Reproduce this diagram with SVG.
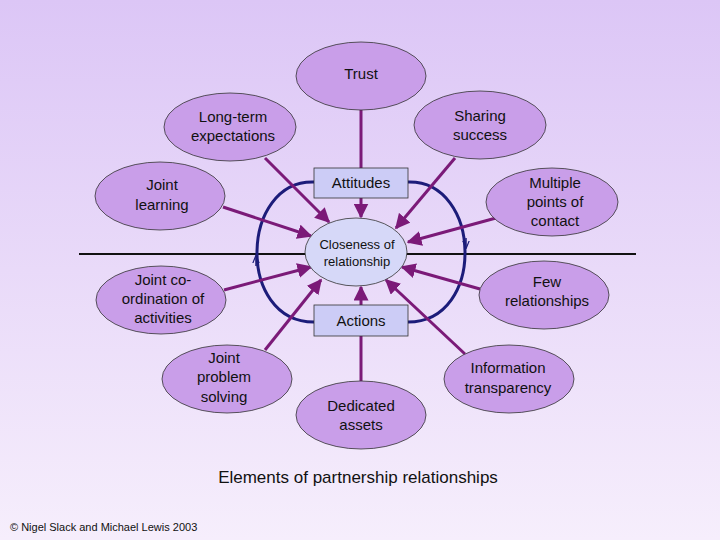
<svg xmlns="http://www.w3.org/2000/svg" width="720" height="540" viewBox="0 0 720 540">
<defs>
<linearGradient id="bg" x1="0" y1="0" x2="0" y2="1"><stop offset="0" stop-color="#dcc6f6"/><stop offset="1" stop-color="#f6eefc"/></linearGradient>
<marker id="pa" viewBox="0 0 10 10" refX="9" refY="5" markerWidth="5" markerHeight="5" orient="auto"><path d="M0,0L10,5L0,10z" fill="#7b1a78"/></marker>
<marker id="ba" viewBox="0 0 10 10" refX="9" refY="5" markerWidth="8" markerHeight="8" markerUnits="userSpaceOnUse" orient="auto"><path d="M0,1L10,5L0,9" fill="none" stroke="#1c1c7a" stroke-width="1.5"/></marker>
</defs>
<style>
.e{fill:#c99ee9;stroke:#333;stroke-width:0.8}
.t{font-family:"Liberation Sans",Arial,sans-serif;font-size:15px;fill:#111;text-anchor:middle}
.p{stroke:#7b1a78;stroke-width:3;fill:none}
.r{fill:#ccccf6;stroke:#333;stroke-width:0.8}
</style>
<rect width="720" height="540" fill="url(#bg)"/>
<line x1="79" y1="254" x2="636" y2="254" stroke="#111" stroke-width="2"/>
<g id="connectors">
<path d="M314,182 C240,180 236,322 314,322" fill="none" stroke="#1c1c7a" stroke-width="3"/>
<path d="M408,182 C482,180 486,322 408,322" fill="none" stroke="#1c1c7a" stroke-width="3"/>
<path d="M256,266 L256,256" stroke="#1c1c7a" stroke-width="1.5" marker-end="url(#ba)"/>
<path d="M466,238 L466,248" stroke="#1c1c7a" stroke-width="1.5" marker-end="url(#ba)"/>
<line class="p" stroke-width="2" x1="361" y1="110" x2="361" y2="168"/>
<line class="p" stroke-width="2" x1="361" y1="198" x2="361" y2="217" marker-end="url(#pa)"/>
<line class="p" stroke-width="2" x1="361" y1="381" x2="361" y2="336"/>
<line class="p" stroke-width="2" x1="361" y1="305" x2="361" y2="287" marker-end="url(#pa)"/>
<line class="p" x1="265" y1="158" x2="329" y2="222" marker-end="url(#pa)"/>
<line class="p" x1="455" y1="158" x2="396" y2="228" marker-end="url(#pa)"/>
<line class="p" x1="223" y1="207" x2="311" y2="236" marker-end="url(#pa)"/>
<line class="p" x1="496" y1="218" x2="408" y2="242" marker-end="url(#pa)"/>
<line class="p" x1="224" y1="290" x2="311" y2="267" marker-end="url(#pa)"/>
<line class="p" x1="480" y1="289" x2="402" y2="267" marker-end="url(#pa)"/>
<line class="p" x1="265" y1="350" x2="321" y2="280" marker-end="url(#pa)"/>
<line class="p" x1="465" y1="354" x2="386" y2="280" marker-end="url(#pa)"/>
</g>
<g id="trust"><ellipse class="e" cx="361" cy="76" rx="65" ry="34"/><text class="t" x="361" y="79">Trust</text></g>
<g id="longterm"><ellipse class="e" cx="230" cy="127" rx="66" ry="34"/><text class="t" x="233" y="122">Long-term</text><text class="t" x="233" y="141">expectations</text></g>
<g id="sharing"><ellipse class="e" cx="480" cy="125" rx="66" ry="34"/><text class="t" x="480" y="121">Sharing</text><text class="t" x="480" y="140">success</text></g>
<g id="jlearning"><ellipse class="e" cx="160" cy="196" rx="65" ry="34"/><text class="t" x="162" y="190">Joint</text><text class="t" x="162" y="210">learning</text></g>
<g id="multiple"><ellipse class="e" cx="552" cy="202" rx="66" ry="34"/><text class="t" x="555" y="188">Multiple</text><text class="t" x="555" y="207">points of</text><text class="t" x="555" y="226">contact</text></g>
<g id="jcoord"><ellipse class="e" cx="161" cy="300" rx="65" ry="34"/><text class="t" x="163" y="285">Joint co-</text><text class="t" x="163" y="304">ordination of</text><text class="t" x="163" y="323">activities</text></g>
<g id="few"><ellipse class="e" cx="544" cy="295" rx="65" ry="34"/><text class="t" x="547" y="287">Few</text><text class="t" x="547" y="306">relationships</text></g>
<g id="jproblem"><ellipse class="e" cx="227" cy="379" rx="65" ry="34"/><text class="t" x="224" y="363">Joint</text><text class="t" x="224" y="382">problem</text><text class="t" x="224" y="402">solving</text></g>
<g id="info"><ellipse class="e" cx="509" cy="379" rx="65" ry="34"/><text class="t" x="508" y="373">Information</text><text class="t" x="508" y="393">transparency</text></g>
<g id="dedicated"><ellipse class="e" cx="361" cy="415" rx="65" ry="34"/><text class="t" x="361" y="411">Dedicated</text><text class="t" x="361" y="430">assets</text></g>
<g id="attitudes"><rect class="r" x="314" y="168" width="94" height="30"/><text class="t" x="361" y="188">Attitudes</text></g>
<g id="actions"><rect class="r" x="314" y="305" width="94" height="31"/><text class="t" x="361" y="326">Actions</text></g>
<g id="closeness"><ellipse cx="356" cy="252" rx="51" ry="34" fill="#d6d8f8" stroke="#333" stroke-width="0.8"/><text class="t" x="357" y="249" style="font-size:13px">Closeness of</text><text class="t" x="357" y="266" style="font-size:13px">relationship</text></g>
<text class="t" x="358" y="483" style="font-size:17px">Elements of partnership relationships</text>
<text x="10" y="531" font-family="Liberation Sans,Arial,sans-serif" font-size="11" fill="#111">© Nigel Slack and Michael Lewis 2003</text>
</svg>
